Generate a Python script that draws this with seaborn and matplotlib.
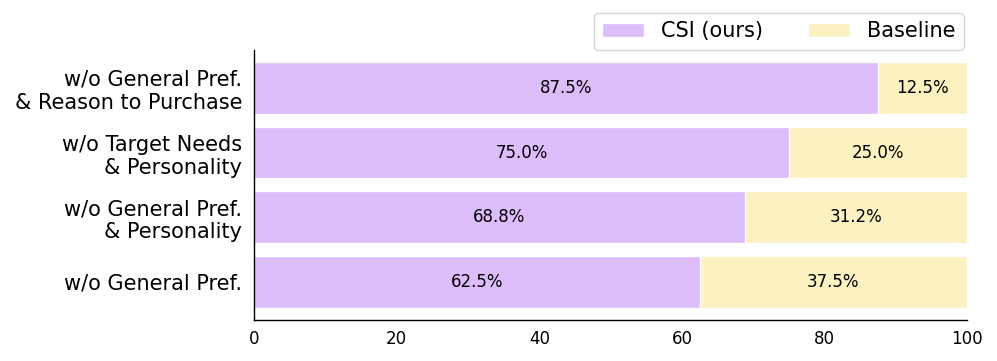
import numpy as np
import pandas as pd
import matplotlib
matplotlib.use("Agg")
import matplotlib.pyplot as plt
import seaborn as sns

# --- Data ---
variants = [
    "w/o General Pref.\n& Reason to Purchase",
    "w/o Target Needs\n& Personality",
    "w/o General Pref.\n& Personality",
    "w/o General Pref.",
]
csi_share = [87.5, 75.0, 68.8, 62.5]
baseline_share = [12.5, 25.0, 31.2, 37.5]

CSI_COLOR = "#dcbdfa"
BASE_COLOR = "#fbf1c1"

df = pd.DataFrame({"variant": variants, "csi": csi_share, "baseline": baseline_share})
df["total"] = df["csi"] + df["baseline"]

sns.set_style("white")
plt.rcParams["font.family"] = ["DejaVu Sans"]
plt.rcParams["text.color"] = "black"
plt.rcParams["xtick.color"] = "black"
plt.rcParams["ytick.color"] = "black"
plt.rcParams["axes.labelcolor"] = "black"

fig = plt.figure(figsize=(9.97, 3.61), dpi=100)
ax = fig.add_axes([0.255, 0.114, 0.715, 0.748])

# baseline drawn as full-length bar, CSI on top of it
sns.barplot(data=df, y="variant", x="total", color=BASE_COLOR, orient="h",
            width=0.8, saturation=1, ax=ax, label="Baseline")
sns.barplot(data=df, y="variant", x="csi", color=CSI_COLOR, orient="h",
            width=0.8, saturation=1, ax=ax, label="CSI (ours)")

base_bars = ax.containers[0]
csi_bars = ax.containers[1]

for bar, val in zip(csi_bars, df["csi"]):
    ax.text(bar.get_x() + bar.get_width() / 2, bar.get_y() + bar.get_height() / 2,
            f"{val:.1f}%", ha="center", va="center", fontsize=12, color="black")
for bar, cbar, val in zip(base_bars, csi_bars, df["baseline"]):
    x0 = cbar.get_width()
    ax.text(x0 + val / 2, bar.get_y() + bar.get_height() / 2,
            f"{val:.1f}%", ha="center", va="center", fontsize=12, color="black")

ax.set_xlim(0, 100)
ax.set_ylim(3.59, -0.59)
ax.set_xlabel("")
ax.set_ylabel("")
ax.set_xticks([0, 20, 40, 60, 80, 100])
ax.tick_params(axis="x", labelsize=12, length=0, pad=7.5, colors="black")
ax.tick_params(axis="y", labelsize=15, length=0, pad=8.5, colors="black")
sns.despine(ax=ax)
for s in ["left", "bottom"]:
    ax.spines[s].set_color("black")
    ax.spines[s].set_linewidth(1.0)

handles, labels = ax.get_legend_handles_labels()
order = [labels.index("CSI (ours)"), labels.index("Baseline")]
ax.legend([handles[i] for i in order], [labels[i] for i in order],
          loc="lower right", bbox_to_anchor=(0.995, 1.0), ncol=2, fontsize=15,
          frameon=True, borderaxespad=0.0, columnspacing=2.2)

fig.savefig("out.png", dpi=100)
